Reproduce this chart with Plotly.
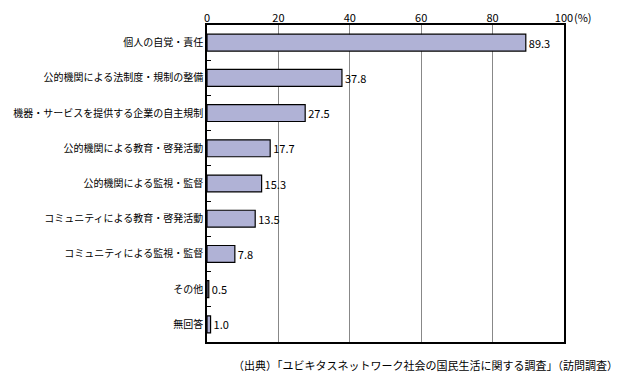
import plotly.graph_objects as go

categories = [
    "個人の自覚・責任",
    "公的機関による法制度・規制の整備",
    "機器・サービスを提供する企業の自主規制",
    "公的機関による教育・啓発活動",
    "公的機関による監視・監督",
    "コミュニティによる教育・啓発活動",
    "コミュニティによる監視・監督",
    "その他",
    "無回答",
]
values = [89.3, 37.8, 27.5, 17.7, 15.3, 13.5, 7.8, 0.5, 1.0]
tick_vals = [0, 20, 40, 60, 80, 100]
tick_text = ["0", "20", "40", "60", "80", "100"]
unit_text = "(%)"
source_text = "（出典）「ユビキタスネットワーク社会の国民生活に関する調査」（訪問調査）"

FONT = "Noto Sans CJK JP"

fig = go.Figure(
    go.Bar(
        x=values,
        y=categories,
        orientation="h",
        marker=dict(color="#b0b2d6", line=dict(color="#000000", width=1.2)),
        width=0.48,
        text=[f"{v:.1f}" for v in values],
        textposition="outside",
        textfont=dict(family=FONT, size=11, color="#000000"),
        cliponaxis=False,
    )
)

fig.update_layout(
    width=624,
    height=376,
    margin=dict(l=199, r=68, t=17, b=42, autoexpand=False),
    paper_bgcolor="white",
    plot_bgcolor="white",
    showlegend=False,
    font=dict(family=FONT, size=10, color="#000000"),
    uniformtext=dict(minsize=11, mode="show"),
    annotations=[
        dict(
            text=source_text,
            xref="paper",
            yref="paper",
            x=(612 - 199) / (556 - 199),
            y=-(357 - 334) / (334 - 17),
            xanchor="right",
            yanchor="middle",
            showarrow=False,
            font=dict(family=FONT, size=11, color="#000000"),
        ),
        dict(
            text=unit_text,
            xref="x",
            yref="paper",
            x=100,
            y=1,
            xanchor="left",
            yanchor="middle",
            xshift=8,
            yshift=8,
            showarrow=False,
            font=dict(family=FONT, size=11, color="#000000"),
        ),
    ],
)

fig.update_xaxes(
    side="top",
    range=[0, 100],
    tickvals=tick_vals,
    ticktext=tick_text,
    showgrid=True,
    gridcolor="#888888",
    gridwidth=1,
    showline=True,
    linecolor="#000000",
    linewidth=1.5,
    mirror=True,
    ticks="",
    ticklabelstandoff=-3,
    zeroline=False,
    automargin=False,
    tickfont=dict(family=FONT, size=11),
)

fig.update_yaxes(
    categoryorder="array",
    categoryarray=categories,
    autorange="reversed",
    showline=True,
    linecolor="#000000",
    linewidth=1.5,
    mirror=True,
    ticks="inside",
    tickson="boundaries",
    ticklen=4,
    tickcolor="#000000",
    showgrid=False,
    automargin=False,
    tickfont=dict(family=FONT, size=10),
)

fig.write_html("out.html")
